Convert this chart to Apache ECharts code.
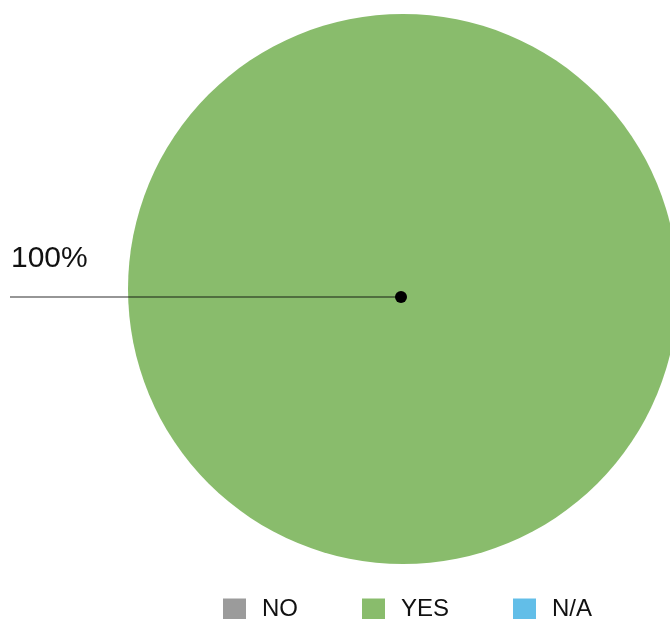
<!DOCTYPE html>
<html>
<head>
<meta charset="utf-8">
<style>
  html, body { margin: 0; padding: 0; background: #ffffff; }
  #chart { width: 670px; height: 619px; }
</style>
<script src="https://cdn.jsdelivr.net/npm/echarts@6/dist/echarts.min.js"></script>
</head>
<body>
<div id="chart"></div>
<script>
// Answer categories and their counts (share of responses)
const categories = ['NO', 'YES', 'N/A'];
const values = [0, 100, 0];
const colors = ['#9b9b9b', '#89bc6c', '#62bee8'];

// Layout of the pie and its leader line
const PIE_CENTER = [403, 289];
const PIE_RADIUS = 275;
const LEADER_ANCHOR = [401, 297];
const LEADER_END_X = 10;
const FONT = '"Liberation Sans", Arial, Helvetica, sans-serif';

const pieData = categories.map((name, i) => ({
  name: name,
  value: values[i],
  itemStyle: { color: colors[i] },
  label: { show: values[i] > 0 }
}));

const chart = echarts.init(document.getElementById('chart'), null, { renderer: 'canvas' });

chart.setOption({
  animation: false,
  backgroundColor: '#ffffff',
  textStyle: { fontFamily: FONT },
  legend: {
    data: categories,
    left: 223,
    top: 597,
    padding: 0,
    itemWidth: 23,
    itemHeight: 21,
    itemGap: 64,
    icon: 'rect',
    selectedMode: false,
    textStyle: {
      fontSize: 24,
      color: '#111111',
      fontFamily: FONT,
      padding: [0, 0, 0, 11]
    }
  },
  series: [{
    type: 'pie',
    center: PIE_CENTER,
    radius: PIE_RADIUS,
    startAngle: 0,
    minAngle: 0,
    silent: true,
    emphasis: { disabled: true },
    data: pieData,
    label: {
      position: 'outside',
      formatter: '{d}%',
      fontSize: 30,
      color: '#111111',
      fontFamily: FONT,
      overflow: 'none'
    },
    labelLine: { show: false },
    labelLayout: function () {
      return {
        x: 11,
        y: LEADER_ANCHOR[1] - 38,
        width: 120,
        align: 'left',
        verticalAlign: 'middle'
      };
    }
  }],
  // Leader from the slice's anchor dot out to the label
  graphic: [{
    type: 'polyline',
    shape: { points: [LEADER_ANCHOR.slice(), [LEADER_END_X, LEADER_ANCHOR[1]]] },
    style: { stroke: 'rgba(0,0,0,0.55)', lineWidth: 1.4, fill: null },
    z: 99
  }, {
    type: 'circle',
    shape: { cx: LEADER_ANCHOR[0], cy: LEADER_ANCHOR[1], r: 6 },
    style: { fill: '#000000' },
    z: 100
  }]
});
</script>
</body>
</html>
